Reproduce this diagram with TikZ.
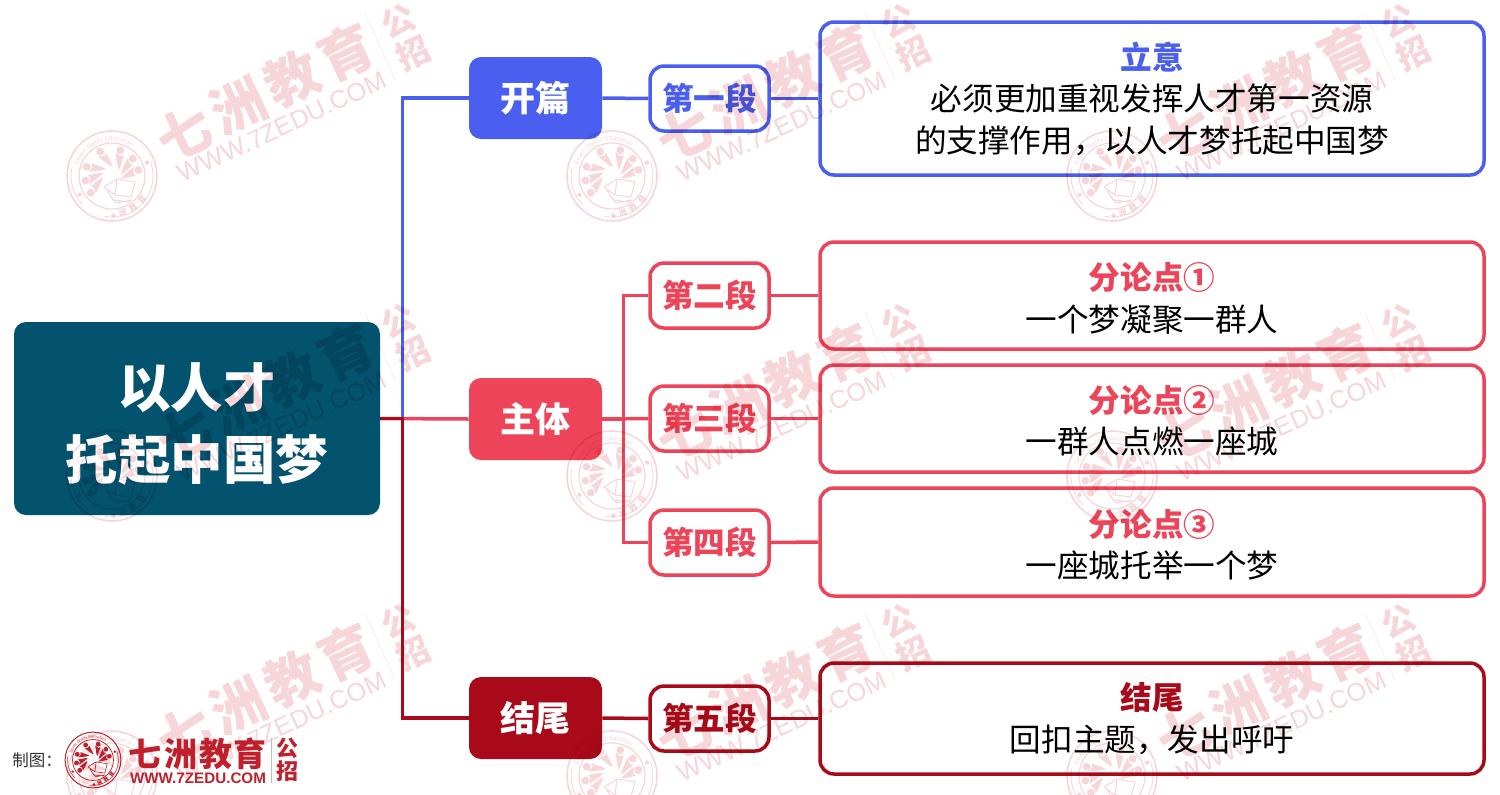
\documentclass[tikz,border=0pt]{standalone}
\usepackage{fontspec}
\setmainfont{Noto Sans CJK SC}
\newfontfamily\latinfont{Liberation Sans}
\usetikzlibrary{decorations.text}
\definecolor{cblue}{HTML}{4A5FF0}
\definecolor{cred}{HTML}{EE4459}
\definecolor{cdark}{HTML}{A80A1A}
\definecolor{cmain}{HTML}{04536E}
\definecolor{wmpink}{HTML}{F6D6D9}
\definecolor{logored}{HTML}{C01F2C}
\newcommand\fpx[1]{\fontsize{\the\dimexpr#1pt/2\relax}{\the\dimexpr#1pt*21/32\relax}\selectfont}
\newcommand\fsc[2]{\fontsize{\the\dimexpr#1pt*#2/10\relax}{\the\dimexpr#1pt*#2/10\relax}\selectfont}
\tikzset{
  mainbox/.style={draw=none,fill=cmain,rounded corners=6pt,inner sep=0,minimum width=366*0.5pt,minimum height=193*0.5pt},
  maintext/.style={inner sep=0,text=white,align=center,font=\fpx{52.5}\bfseries},
  catbox/.style={draw=none,fill=#1,rounded corners=6pt,inner sep=0,minimum width=133*0.5pt,minimum height=82*0.5pt,text=white,font=\fpx{35}\bfseries},
  parabox/.style={draw=#1,fill=white,line width=1.75pt,rounded corners=7pt,inner sep=0,minimum width=119*0.5pt,minimum height=65*0.5pt,text=#1,font=\fpx{31.6}\bfseries},
  detailbox/.style={draw=#1,fill=white,line width=1.75pt,rounded corners=7pt,inner sep=0,minimum width=664*0.5pt},
  detailtext/.style={inner sep=0,align=center,font=\fpx{31.6}},
  link/.style={draw=#1,line width=1.75pt},
  wmtxt/.style={text=wmpink,rotate=25,inner sep=0}
}
% seal: #1 name, #2 centre, #3 pt per reference pixel, #4 colour
\newcommand\sealmark[4]{%
\begin{scope}[shift={#2},x=#3pt,y=#3pt]
  \draw[#4,line width=#3*1.6pt] (0,0) circle (45);
  \draw[#4,line width=#3*1.2pt] (0,0) circle (33);
  \draw[#4,line width=#3*0.8pt] (20:41) arc (20:-100:41);
  \draw[#4,line width=#3*0.8pt] (225:41) arc (225:170:41);
  \fill[#4] (21:37.5) circle (2.2) (210:37.5) circle (2.2);
  \path[decorate,decoration={text along path,text align=center,text={|\fsc{#3}{62}\latinfont\color{#4}|Seven States Education}}] (175:35.5) arc (175:45:35.5);
  \fill[#4] (-88:39.5) ++(0,2.4) -- ++(2.4,-2.4) -- ++(-2.4,-2.4) -- ++(-2.4,2.4) -- cycle;
  \node[text=#4,rotate=15,inner sep=0,font=\fsc{#3}{80}\bfseries] (#1a) at (-74:38) {洲};
  \node[text=#4,rotate=35,inner sep=0,font=\fsc{#3}{80}\bfseries] (#1b) at (-56:38) {教};
  \node[text=#4,rotate=52,inner sep=0,font=\fsc{#3}{80}\bfseries] (#1c) at (-38:38) {育};
  \foreach \a in {218,190,160,116,72,40,13}{
    \fill[#4] (\a:27) circle (3.9);
    \fill[#4] (\a+9:24) .. controls (\a+2:16) and (\a-12:11) .. (\a-30:9)
       .. controls (\a-22:15) and (\a-14:19) .. (\a-12:24) .. controls (\a-6:21) .. cycle;
  }
  \draw[#4,line width=#3*1pt,line join=round]
    (-8,-11) -- (5,-3) -- (23,-6) -- (19,-21) -- (3,-19) -- (-8,-11) (3,-19) -- (5,-3)
    (-5,-14) -- (1,-24) -- (18,-26) (-2,-19) -- (4,-27) -- (20,-24);
\end{scope}}
% watermark tile: #1 name, #2 x, #3 y
\newcommand\wmark[3]{%
  \sealmark{#1s}{(#2,#3)}{0.5}{wmpink}
  \begin{scope}[shift={(#2,#3)}]
    \node[wmtxt,font=\fpx{54}\bfseries] (#1a) at (72,-43) {七};
    \node[wmtxt,font=\fpx{54}\bfseries] (#1b) at (126,-70) {洲};
    \node[wmtxt,font=\fpx{54}\bfseries] (#1c) at (180,-97) {教};
    \node[wmtxt,font=\fpx{54}\bfseries] (#1d) at (234,-124) {育};
    \node[wmtxt,font=\fpx{33}\bfseries] (#1e) at (286,-155) {公};
    \node[wmtxt,font=\fpx{33}\bfseries] (#1f) at (301,-123) {招};
    \node[wmtxt,font=\fontsize{12.7pt}{12.7pt}\selectfont\latinfont] (#1g) at (170,-49) {WWW.7ZEDU.COM};
    \draw[wmpink!45,line width=0.4pt] (253,-163) -- (283,-96);
  \end{scope}}
\begin{document}
\begin{tikzpicture}[x=0.5pt,y=-0.5pt]
\useasboundingbox (0,0) rectangle (1500,794);
\fill[white] (0,0) rectangle (1500,794);

% nodes
\node[mainbox] (root) at (197,418.5) {};
\node[maintext] (roottext) at (197,424) {以人才\\[1.5pt]托起中国梦};
\node[catbox=cblue] (c1) at (535.5,98) {\raisebox{-0.5pt}{开篇}};
\node[catbox=cred]  (c2) at (535.5,419) {\raisebox{-0.5pt}{主体}};
\node[catbox=cdark] (c3) at (535.5,718) {\raisebox{-0.5pt}{结尾}};
\node[parabox=cblue] (p1) at (709.5,98.5) {\raisebox{-0.5pt}{第一段}};
\node[parabox=cred]  (p2) at (709.5,295.5) {\raisebox{-0.5pt}{第二段}};
\node[parabox=cred]  (p3) at (709.5,418.5) {\raisebox{-0.5pt}{第三段}};
\node[parabox=cred]  (p4) at (709.5,542.5) {\raisebox{-0.5pt}{第四段}};
\node[parabox=cdark] (p5) at (709.5,718.5) {\raisebox{-0.5pt}{第五段}};
\node[detailbox=cblue,minimum height=153*0.5pt] (d1) at (1152,98.5) {};
\node[detailbox=cred,minimum height=107*0.5pt] (d2) at (1152,295.5) {};
\node[detailbox=cred,minimum height=107*0.5pt] (d3) at (1152,418.5) {};
\node[detailbox=cred,minimum height=108*0.5pt] (d4) at (1152,542) {};
\node[detailbox=cdark,minimum height=111*0.5pt] (d5) at (1152,718.5) {};
\node[detailtext] (t1) at (1152,98.5) {{\color{cblue}\bfseries 立意}\\必须更加重视发挥人才第一资源\\的支撑作用，以人才梦托起中国梦};
\node[detailtext] (t2) at (1152,298.5) {{\color{cred}\bfseries 分论点①}\\一个梦凝聚一群人};
\node[detailtext] (t3) at (1152,420.5) {{\color{cred}\bfseries 分论点②}\\一群人点燃一座城};
\node[detailtext] (t4) at (1152,544.5) {{\color{cred}\bfseries 分论点③}\\一座城托举一个梦};
\node[detailtext] (t5) at (1152,718.5) {{\color{cdark}\bfseries 结尾}\\回扣主题，发出呼吁};

% connectors
\draw[link=cblue] (root.east) -- ++(22,0) |- (c1.west);
\draw[link=cred] (root.east) -- (c2.west);
\draw[link=cdark] (root.east) -- ++(22,0) |- (c3.west);
\draw[link=cblue] (c1.east) -- (p1.west);
\draw[link=cblue] (p1.east) -- (d1.west);
\draw[link=cred] (c2.east) -- (p3.west);
\draw[link=cred] (c2.east) -- ++(21,0) |- (p2.west);
\draw[link=cred] (c2.east) -- ++(21,0) |- (p4.west);
\draw[link=cred] (p2.east) -- (d2.west);
\draw[link=cred] (p3.east) -- (d3.west);
\draw[link=cred] (p4.east) -- (d4.west);
\draw[link=cdark] (c3.east) -- (p5.west);
\draw[link=cdark] (p5.east) -- (d5.west);

% watermark over everything
\begin{scope}[blend mode=multiply]
\foreach \col/\cx in {0/112,1/612,2/1112}{
  \foreach \row/\cy in {0/176,1/476,2/776}{
    \wmark{w\col\row}{\cx}{\cy}
  }
}
\end{scope}

% credit
\node[inner sep=0,anchor=west,font=\fpx{16.5},text=black!80] (credit) at (12,760) {制图：};
\sealmark{ls}{(93,760)}{0.31}{logored}
\node[inner sep=0,text=logored,font=\fpx{33}\bfseries] (la) at (145,754) {七};
\node[inner sep=0,text=logored,font=\fpx{33}\bfseries] (lb) at (181,754) {洲};
\node[inner sep=0,text=logored,font=\fpx{33}\bfseries] (lc) at (216,754) {教};
\node[inner sep=0,text=logored,font=\fpx{33}\bfseries] (ld) at (250,754) {育};
\node[inner sep=0,text=logored,font=\fontsize{7.6pt}{7.6pt}\selectfont\latinfont\bfseries] (le) at (198,778) {WWW.7ZEDU.COM};
\draw[black!25,line width=0.3pt] (271,738) -- (271,783);
\node[inner sep=0,text=logored,font=\fpx{22}\bfseries] (lf) at (287,748) {公};
\node[inner sep=0,text=logored,font=\fpx{22}\bfseries] (lg) at (287,771) {招};
\end{tikzpicture}
\end{document}
